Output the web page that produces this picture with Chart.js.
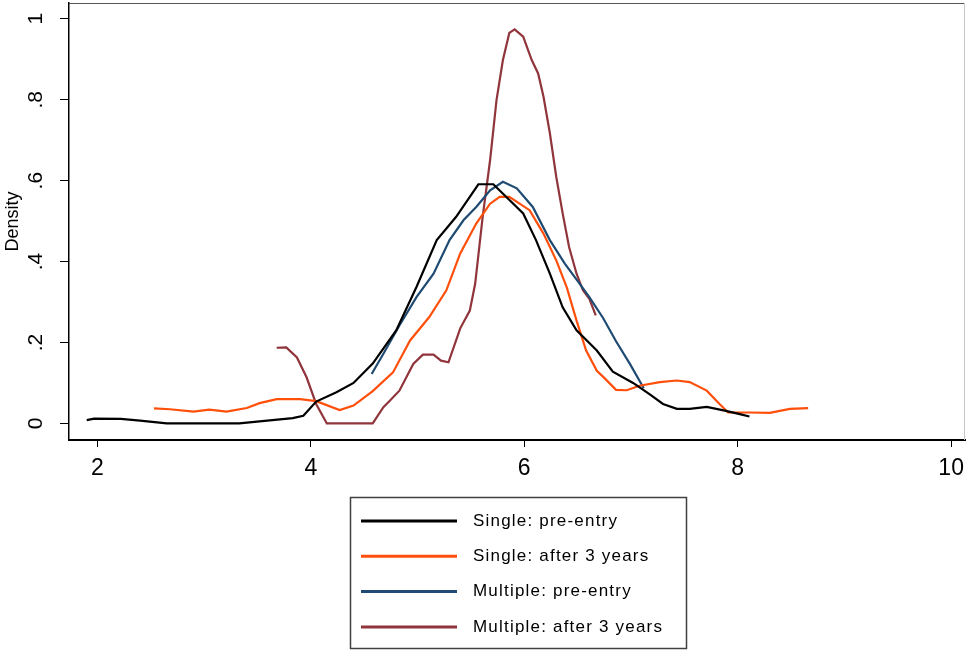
<!DOCTYPE html>
<html>
<head>
<meta charset="utf-8">
<script src="https://cdn.jsdelivr.net/npm/chart.js@4/dist/chart.umd.min.js"></script>
<style>
  html, body { margin: 0; padding: 0; background: #ffffff; }
  #wrap { width: 966px; height: 652px; position: relative; }
</style>
</head>
<body>
<div id="wrap"><canvas id="c" width="966" height="652"></canvas></div>
<script>
// ---- tick values and labels ----
const xTicks = [2, 4, 6, 8, 10];
const yTicks = [0, 0.2, 0.4, 0.6, 0.8, 1];
const yTickLabels = ['0', '.2', '.4', '.6', '.8', '1'];

// ---- series labels ----
const seriesLabels = ['Single: pre-entry', 'Single: after 3 years', 'Multiple: pre-entry', 'Multiple: after 3 years'];

// ---- Single: pre-entry ----
const singlePreX = [1.90, 1.97, 2.22, 2.40, 2.65, 3.00, 3.33, 3.52, 3.83, 3.93, 4.05, 4.24, 4.40, 4.58, 4.80, 4.99, 5.18, 5.36, 5.57, 5.71, 5.83, 5.99, 6.11, 6.24, 6.36, 6.49, 6.68, 6.83, 7.02, 7.18, 7.30, 7.43, 7.55, 7.71, 7.89, 8.02, 8.11];
const singlePreY = [0.008, 0.012, 0.011, 0.007, 0.000, 0.000, 0.000, 0.005, 0.013, 0.019, 0.054, 0.077, 0.100, 0.148, 0.230, 0.337, 0.453, 0.510, 0.591, 0.591, 0.560, 0.519, 0.453, 0.370, 0.287, 0.230, 0.180, 0.128, 0.100, 0.071, 0.048, 0.036, 0.036, 0.041, 0.031, 0.023, 0.017];

// ---- Single: after 3 years ----
const singleAfterX = [2.53, 2.68, 2.90, 3.05, 3.21, 3.40, 3.52, 3.68, 3.90, 4.05, 4.27, 4.40, 4.58, 4.77, 4.93, 5.11, 5.27, 5.40, 5.55, 5.68, 5.77, 5.86, 6.05, 6.18, 6.30, 6.40, 6.49, 6.58, 6.68, 6.74, 6.86, 6.96, 7.08, 7.27, 7.43, 7.55, 7.71, 7.83, 7.91, 8.11, 8.30, 8.49, 8.66];
const singleAfterY = [0.037, 0.035, 0.029, 0.034, 0.029, 0.038, 0.050, 0.060, 0.060, 0.055, 0.033, 0.044, 0.080, 0.126, 0.205, 0.263, 0.329, 0.420, 0.494, 0.543, 0.560, 0.560, 0.527, 0.469, 0.403, 0.335, 0.254, 0.180, 0.130, 0.115, 0.083, 0.082, 0.093, 0.102, 0.106, 0.102, 0.081, 0.048, 0.027, 0.027, 0.026, 0.036, 0.038];

// ---- Multiple: pre-entry ----
const multiPreX = [4.57, 4.68, 4.83, 4.99, 5.15, 5.30, 5.43, 5.55, 5.68, 5.80, 5.93, 6.08, 6.24, 6.38, 6.52, 6.61, 6.74, 6.86, 6.99, 7.12];
const multiPreY = [0.122, 0.172, 0.242, 0.312, 0.370, 0.453, 0.502, 0.535, 0.576, 0.597, 0.581, 0.535, 0.453, 0.395, 0.345, 0.312, 0.260, 0.203, 0.147, 0.087];

// ---- Multiple: after 3 years ----
const multiAfterX = [3.68, 3.77, 3.87, 3.96, 4.05, 4.15, 4.58, 4.68, 4.74, 4.83, 4.96, 5.05, 5.15, 5.22, 5.29, 5.40, 5.49, 5.54, 5.61, 5.68, 5.74, 5.80, 5.86, 5.91, 5.99, 6.07, 6.13, 6.18, 6.24, 6.30, 6.36, 6.42, 6.49, 6.55, 6.61, 6.67];
const multiAfterY = [0.187, 0.188, 0.163, 0.114, 0.048, 0.000, 0.000, 0.040, 0.056, 0.081, 0.147, 0.170, 0.170, 0.155, 0.151, 0.235, 0.279, 0.345, 0.510, 0.651, 0.799, 0.898, 0.965, 0.974, 0.956, 0.898, 0.865, 0.808, 0.717, 0.609, 0.519, 0.436, 0.370, 0.329, 0.308, 0.267];

const seriesColors = ['#000000', '#ff4f0a', '#1f4b73', '#90353b'];

function toPoints(xs, ys) { return xs.map((x, i) => ({ x: x, y: ys[i] })); }

const datasets = [
  [singlePreX, singlePreY],
  [singleAfterX, singleAfterY],
  [multiPreX, multiPreY],
  [multiAfterX, multiAfterY]
].map((s, i) => ({
  label: seriesLabels[i],
  data: toPoints(s[0], s[1]),
  borderColor: seriesColors[i],
  backgroundColor: seriesColors[i],
  borderWidth: 2.2,
  pointRadius: 0,
  tension: 0,
  fill: false
}));

const FONT = '"Liberation Sans", Arial, Helvetica, sans-serif';

const framePlugin = {
  id: 'frame',
  beforeDatasetsDraw(chart) {
    const { ctx, chartArea: a } = chart;
    ctx.save();
    ctx.lineWidth = 1;
    ctx.strokeStyle = '#555555';
    ctx.beginPath(); ctx.moveTo(a.left, a.top + 0.5); ctx.lineTo(a.right, a.top + 0.5); ctx.stroke();
    ctx.strokeStyle = '#c8c8c8';
    ctx.beginPath(); ctx.moveTo(a.right - 0.5, a.top); ctx.lineTo(a.right - 0.5, a.bottom); ctx.stroke();
    ctx.restore();
  }
};

const boxLegend = {
  id: 'boxLegend',
  afterDraw(chart) {
    const ctx = chart.ctx;
    ctx.save();
    ctx.strokeStyle = '#404040';
    ctx.lineWidth = 1.5;
    ctx.strokeRect(350.5, 497.5, 336, 151);
    ctx.font = '17px ' + FONT;
    try { ctx.letterSpacing = '1.2px'; } catch (e) {}
    ctx.textBaseline = 'middle';
    ctx.textAlign = 'left';
    chart.data.datasets.forEach((ds, i) => {
      const y = 521 + i * 35.3;
      ctx.strokeStyle = ds.borderColor;
      ctx.lineWidth = 3;
      ctx.beginPath(); ctx.moveTo(361, y); ctx.lineTo(457, y); ctx.stroke();
      ctx.fillStyle = '#000000';
      ctx.fillText(ds.label, 473, y);
    });
    ctx.restore();
  }
};

new Chart(document.getElementById('c'), {
  type: 'line',
  data: { datasets: datasets },
  plugins: [framePlugin, boxLegend],
  options: {
    responsive: false,
    animation: false,
    devicePixelRatio: 1,
    layout: { padding: { left: 0, right: 1, top: 3, bottom: 0 } },
    plugins: { legend: { display: false }, tooltip: { enabled: false } },
    scales: {
      x: {
        type: 'linear',
        min: 1.734,
        max: 10.13,
        afterBuildTicks: (s) => { s.ticks = xTicks.map(v => ({ value: v })); },
        afterFit: (s) => { s.height = 212; s.paddingLeft = 0; s.paddingRight = 0; },
        grid: { display: true, drawOnChartArea: false, drawTicks: true, tickLength: 7, color: '#000000', lineWidth: 1 },
        border: { display: true, color: '#000000', width: 2 },
        ticks: { color: '#000000', font: { family: FONT, size: 23 }, padding: 8, maxRotation: 0, autoSkip: false, callback: (v) => String(v) }
      },
      y: {
        type: 'linear',
        min: -0.041,
        max: 1.039,
        afterBuildTicks: (s) => { s.ticks = yTicks.map(v => ({ value: v })); },
        afterFit: (s) => { s.width = 69; s.paddingTop = 0; s.paddingBottom = 0; },
        grid: { display: true, drawOnChartArea: false, drawTicks: true, tickLength: 9, color: '#000000', lineWidth: 1 },
        border: { display: true, color: '#000000', width: 1.5 },
        title: { display: true, text: 'Density', color: '#000000', font: { family: FONT, size: 18 }, padding: { top: 2, bottom: 0 } },
        ticks: { color: '#000000', font: { family: FONT, size: 21 }, padding: 15, minRotation: 90, maxRotation: 90, crossAlign: 'center', autoSkip: false, callback: (v, i) => yTickLabels[i] }
      }
    }
  }
});
</script>
</body>
</html>
